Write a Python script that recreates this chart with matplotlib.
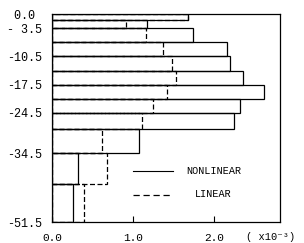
import matplotlib
matplotlib.use("Agg")
import matplotlib.pyplot as plt
import numpy as np

# layer boundaries (depth) and values per layer (x10^-3)
depths = [0.0, -1.5, -3.5, -7.0, -10.5, -14.0, -17.5, -21.0, -24.5, -28.5, -34.5, -42.0, -51.5]
nonlinear = [1.68, 1.17, 1.74, 2.17, 2.20, 2.36, 2.62, 2.33, 2.25, 1.07, 0.32, 0.26]
linear = [1.68, 0.91, 1.16, 1.37, 1.49, 1.53, 1.42, 1.25, 1.11, 0.62, 0.68, 0.40]

ytick_vals = [0.0, -3.5, -10.5, -17.5, -24.5, -34.5, -51.5]
ytick_labels = ["0.0 ", "- 3.5", "-10.5", "-17.5", "-24.5", "-34.5", "-51.5"]
xtick_vals = [0.0, 1.0, 2.0]
xtick_labels = ["0.0", "1.0", "2.0"]

plt.rcParams['font.family'] = ['Liberation Mono', 'DejaVu Sans']

fig = plt.figure(figsize=(3.04, 2.43), dpi=100)
ax = fig.add_axes([52/304, 1 - 222/243, 228/304, 208/243])

d = np.array(depths)
thick = d[:-1] - d[1:]
centers = (d[:-1] + d[1:]) / 2

ax.barh(centers, nonlinear, height=thick, left=0, fill=False,
        edgecolor='black', linewidth=0.9)
ax.barh(centers, linear, height=thick, left=0, fill=False,
        edgecolor='black', linewidth=0.9, linestyle=(0, (4, 2)))

ax.set_xlim(0, 2.82)
ax.set_ylim(-51.5, 0)

ax.set_yticks(ytick_vals)
ax.set_yticklabels(ytick_labels, fontsize=8.5)
ax.tick_params(axis='y', length=0, pad=7)
ax.set_xticks(xtick_vals)
ax.set_xticklabels(xtick_labels, fontsize=8)
ax.tick_params(axis='x', direction='in', length=4, pad=8)

for s in ax.spines.values():
    s.set_linewidth(0.9)

# legend drawn by hand so the labels are centred like the original
ax.plot([0.355, 0.531], [0.245, 0.245], color='black', lw=0.8, transform=ax.transAxes)
ax.plot([0.355, 0.531], [0.130, 0.130], color='black', lw=0.9,
        linestyle=(0, (5, 3)), transform=ax.transAxes)
ax.text(0.708, 0.245, "NONLINEAR", ha='center', va='center', fontsize=7.3,
        transform=ax.transAxes)
ax.text(0.708, 0.135, "LINEAR", ha='center', va='center', fontsize=7.3,
        transform=ax.transAxes)

ax.text(0.85, -0.072, "( x10⁻³)", ha='left', va='center', fontsize=7.5,
        transform=ax.transAxes, clip_on=False)

fig.savefig("out.png", dpi=100)
